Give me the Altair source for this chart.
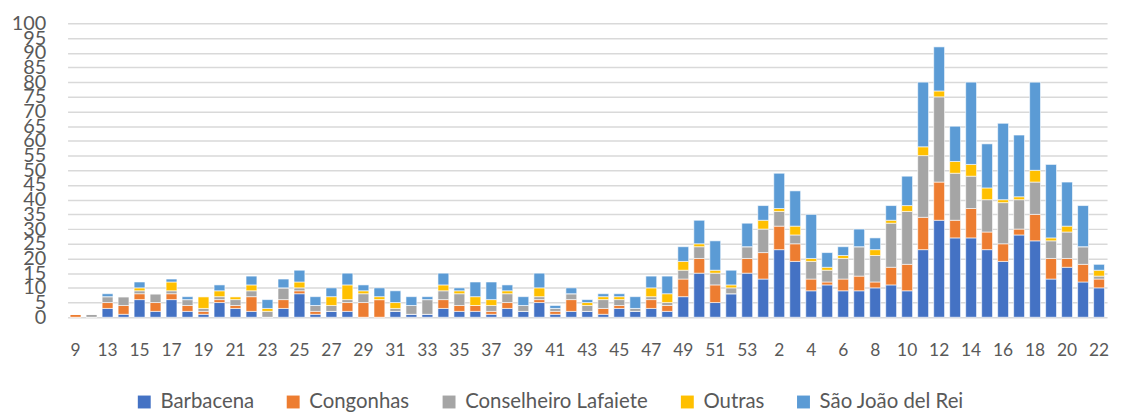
import altair as alt
import pandas as pd

weeks = ["9", "12", "13", "14", "15", "16", "17", "18", "19", "20", "21", "22",
         "23", "24", "25", "26", "27", "28", "29", "30", "31", "32", "33", "34",
         "35", "36", "37", "38", "39", "40", "41", "42", "43", "44", "45", "46",
         "47", "48", "49", "50", "51", "52", "53", "1", "2", "3", "4", "5", "6",
         "7", "8", "9", "10", "11", "12", "13", "14", "15", "16", "17", "18",
         "19", "20", "21", "22"]

barbacena = [0, 0, 3, 1, 6, 2, 6, 2, 1, 5, 3, 2,
             0, 3, 8, 1, 2, 2, 0, 0, 2, 1, 1, 3,
             2, 2, 1, 3, 2, 5, 1, 2, 2, 1, 3, 2,
             3, 2, 7, 15, 5, 8, 15, 13, 23, 19, 9, 11, 9,
             9, 10, 11, 9, 23, 33, 27, 27, 23, 19, 28, 26,
             13, 17, 12, 10]
congonhas = [1, 0, 2, 3, 2, 3, 2, 2, 1, 1, 1, 5,
             0, 3, 1, 1, 0, 3, 5, 6, 0, 0, 0, 3,
             2, 2, 1, 2, 0, 1, 1, 4, 0, 2, 1, 0,
             3, 2, 6, 5, 6, 0, 5, 9, 8, 6, 4, 1, 4,
             5, 2, 6, 9, 11, 13, 6, 10, 6, 6, 2, 9,
             7, 3, 6, 3]
lafaiete = [0, 1, 2, 3, 1, 3, 1, 2, 1, 1, 2, 2,
            2, 4, 1, 2, 2, 1, 3, 0, 1, 3, 5, 3,
            4, 0, 2, 3, 2, 1, 1, 2, 2, 3, 2, 1,
            1, 1, 3, 4, 4, 2, 4, 8, 5, 3, 6, 4, 7,
            10, 9, 15, 18, 21, 29, 16, 11, 11, 14, 10, 11,
            6, 9, 6, 1]
outras = [0, 0, 0, 0, 1, 0, 3, 0, 4, 2, 1, 2,
          1, 0, 2, 0, 3, 5, 1, 1, 2, 0, 0, 2,
          1, 3, 2, 1, 0, 3, 0, 0, 1, 1, 1, 0,
          3, 3, 3, 1, 1, 1, 0, 3, 1, 3, 1, 1, 1,
          0, 2, 1, 2, 3, 2, 4, 4, 4, 1, 1, 4,
          1, 2, 0, 2]
sjdr = [0, 0, 1, 0, 2, 0, 1, 1, 0, 2, 0, 3,
        3, 3, 4, 3, 3, 4, 2, 3, 4, 3, 1, 4,
        1, 5, 6, 2, 3, 5, 1, 2, 1, 1, 1, 4,
        4, 6, 5, 8, 10, 5, 8, 5, 12, 12, 15, 5, 3,
        6, 4, 5, 10, 22, 15, 12, 28, 15, 26, 21, 30,
        25, 15, 14, 2]

cities = ["Barbacena", "Congonhas", "Conselheiro Lafaiete", "Outras", "São João del Rei"]
colors = ["#4472C4", "#ED7D31", "#A5A5A5", "#FFC000", "#5B9BD5"]
series = [barbacena, congonhas, lafaiete, outras, sjdr]

rows = []
for k, (city, vals) in enumerate(zip(cities, series)):
    for i, v in enumerate(vals):
        rows.append({"idx": i, "week": weeks[i], "city": city, "ord": k, "value": v})
df = pd.DataFrame(rows)

label_arr = "[" + ",".join("'" + w + "'" for w in weeks) + "]"
font = "Lato"
txt = "#595959"

chart = alt.Chart(df).mark_bar(stroke="white", strokeWidth=0.6).encode(
    x=alt.X("idx:O",
            scale=alt.Scale(paddingInner=0.32, paddingOuter=0.16),
            axis=alt.Axis(title=None, values=list(range(0, 65, 2)),
                          labelExpr=label_arr + "[datum.value]",
                          labelAngle=0, domain=False, ticks=False,
                          labelPadding=25, labelFontSize=17.5, labelFont=font,
                          labelColor=txt, grid=False, labelOverlap=False)),
    y=alt.Y("value:Q", stack="zero",
            scale=alt.Scale(domain=[0, 100], nice=False),
            axis=alt.Axis(title=None, values=list(range(0, 101, 5)),
                          domain=False, ticks=False, labelPadding=22,
                          labelFontSize=20, labelFont=font, labelColor=txt,
                          gridColor="#d9d9d9", gridWidth=1.5,
                          labelOverlap=False, labelFlush=False)),
    color=alt.Color("city:N", scale=alt.Scale(domain=cities, range=colors),
                    legend=alt.Legend(title=None, orient="none", legendX=67, legendY=371,
                                      direction="horizontal", symbolType="square",
                                      symbolSize=169, symbolStrokeWidth=0,
                                      labelFontSize=20.5, labelFont=font, labelColor=txt,
                                      labelLimit=0, columnPadding=29, labelOffset=6,
                                      padding=0)),
    order=alt.Order("ord:Q", sort="ascending"),
    tooltip=["week:N", "city:N", "value:Q"],
).properties(
    width=1047, height=296,
    autosize=alt.AutoSizeParams(type="none"),
    padding={"left": 60, "top": 14, "right": 6, "bottom": 98},
).configure_view(stroke=None)

chart.save("out.html", embed_options={"renderer": "svg", "actions": False})
